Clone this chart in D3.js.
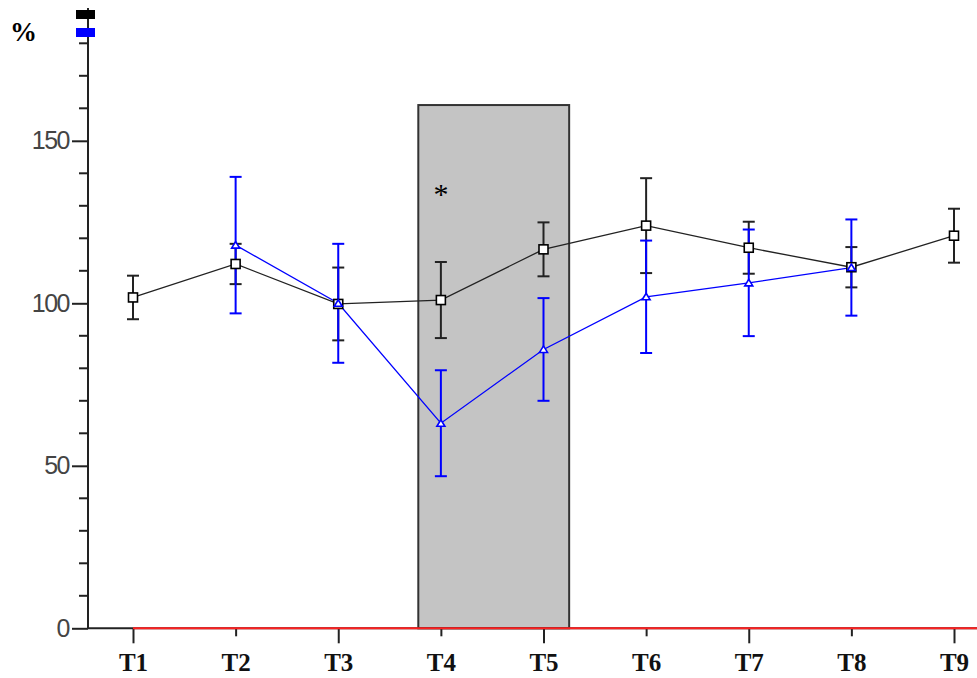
<!DOCTYPE html>
<html>
<head>
<meta charset="utf-8">
<script src="https://cdn.jsdelivr.net/npm/d3@7"></script>
<style>
  body { margin: 0; background: #fff; }
  svg { display: block; }
</style>
</head>
<body>
<div id="chart"></div>
<script>
// data
const categories = ["T1", "T2", "T3", "T4", "T5", "T6", "T7", "T8", "T9"];

const blackMean = [101.8, 112.1, 99.8, 101.0, 116.6, 123.9, 117.1, 111.1, 120.8];
const blackErr  = [6.7, 6.2, 11.2, 11.7, 8.3, 14.6, 8.0, 6.2, 8.3];

const blueMean = [null, 117.9, 100.0, 63.1, 85.8, 102.0, 106.3, 111.0, null];
const blueErr  = [null, 21.0, 18.3, 16.3, 15.8, 17.3, 16.4, 14.8, null];

const yMajorTicks = [0, 50, 100, 150];
const yMinorTicks = [10, 20, 30, 40, 60, 70, 80, 90, 110, 120, 130, 140, 160, 170, 180];

// shaded period, in category units (1 = T1) and value
const shadeFrom = 3.78;
const shadeTo = 5.25;
const shadeTop = 161;

const legendColors = ["#000000", "#0000ff"];

const WIDTH = 977;
const HEIGHT = 678;

const svg = d3.select("#chart").append("svg")
    .attr("width", WIDTH)
    .attr("height", HEIGHT);

const AXIS_X = 88;
const BASE_Y = 628.3;

const y = d3.scaleLinear()
    .domain([0, 190])
    .range([BASE_Y, BASE_Y - 190 * 3.25]);

const x = d3.scalePoint()
    .domain(categories)
    .range([133, 954]);

const xIdx = d3.scaleLinear()
    .domain([1, categories.length])
    .range([133, 954]);

// shaded rectangle
svg.append("rect")
    .attr("x", xIdx(shadeFrom))
    .attr("y", y(shadeTop))
    .attr("width", xIdx(shadeTo) - xIdx(shadeFrom))
    .attr("height", y(0) - y(shadeTop))
    .attr("fill", "#c4c4c4")
    .attr("stroke", "#333")
    .attr("stroke-width", 2);

svg.append("text")
    .text("*")
    .attr("x", x("T4"))
    .attr("y", 204)
    .attr("text-anchor", "middle")
    .attr("font-family", "'Liberation Serif', serif")
    .attr("font-size", 30)
    .attr("fill", "#000");

// y axis
const yAxis = svg.append("g")
    .attr("transform", `translate(${AXIS_X}, 0)`)
    .call(d3.axisLeft(y).tickValues(yMajorTicks).tickSize(16).tickPadding(3).tickSizeOuter(0));
yAxis.select(".domain").attr("d", `M0,${BASE_Y}V8`).attr("stroke", "#222").attr("stroke-width", 2);
yAxis.selectAll("line").attr("stroke", "#222").attr("stroke-width", 2);
yAxis.selectAll("text")
    .attr("font-family", "'Liberation Sans', Arial, sans-serif")
    .attr("font-size", 25)
    .attr("letter-spacing", -1.5)
    .attr("fill", "#444");

svg.append("g")
    .selectAll("line")
    .data(yMinorTicks)
    .join("line")
    .attr("x1", AXIS_X - 9)
    .attr("x2", AXIS_X)
    .attr("y1", d => y(d))
    .attr("y2", d => y(d))
    .attr("stroke", "#222")
    .attr("stroke-width", 2);

svg.append("text")
    .text("%")
    .attr("x", 10)
    .attr("y", 41)
    .attr("font-family", "'Liberation Serif', serif")
    .attr("font-weight", "bold")
    .attr("font-size", 27)
    .attr("fill", "#000");

// legend-like swatches at the axis top
svg.append("g")
    .selectAll("rect")
    .data(legendColors)
    .join("rect")
    .attr("x", 76)
    .attr("y", (d, i) => 10 + i * 18)
    .attr("width", 19)
    .attr("height", 9)
    .attr("fill", d => d);

// x axis
const xAxis = svg.append("g")
    .attr("transform", `translate(0, ${BASE_Y})`)
    .call(d3.axisBottom(x).tickSizeOuter(0));
xAxis.select(".domain").attr("d", `M${AXIS_X},0H${WIDTH}`).attr("stroke", "#222").attr("stroke-width", 2);
xAxis.selectAll(".tick line")
    .attr("y2", (d, i) => i % 2 == 0 ? 15 : 8)
    .attr("stroke", "#222")
    .attr("stroke-width", 2);
xAxis.selectAll("text")
    .attr("y", 43)
    .attr("dy", 0)
    .attr("font-family", "'Liberation Serif', serif")
    .attr("font-weight", "bold")
    .attr("font-size", 25)
    .attr("fill", "#111");

// red zero line
svg.append("line")
    .attr("x1", x("T1"))
    .attr("x2", WIDTH)
    .attr("y1", y(0))
    .attr("y2", y(0))
    .attr("stroke", "#ff2020")
    .attr("stroke-width", 2);

const blackPts = categories.map((c, i) => ({ c: c, v: blackMean[i], e: blackErr[i] }));
const bluePts = categories.map((c, i) => ({ c: c, v: blueMean[i], e: blueErr[i] }))
    .filter(d => d.v != null);

const line = d3.line()
    .x(d => x(d.c))
    .y(d => y(d.v));

let drawErrors = (pts, color) => {
    const g = svg.append("g").attr("stroke", color).attr("stroke-width", 2);
    g.selectAll(".v").data(pts).join("line")
        .attr("x1", d => x(d.c)).attr("x2", d => x(d.c))
        .attr("y1", d => y(d.v + d.e)).attr("y2", d => y(d.v - d.e));
    g.selectAll(".t").data(pts).join("line")
        .attr("x1", d => x(d.c) - 6).attr("x2", d => x(d.c) + 6)
        .attr("y1", d => y(d.v + d.e)).attr("y2", d => y(d.v + d.e));
    g.selectAll(".b").data(pts).join("line")
        .attr("x1", d => x(d.c) - 6).attr("x2", d => x(d.c) + 6)
        .attr("y1", d => y(d.v - d.e)).attr("y2", d => y(d.v - d.e));
};

drawErrors(blackPts, "#222");
drawErrors(bluePts, "#0000ff");

svg.append("path")
    .attr("d", line(blackPts))
    .attr("fill", "none")
    .attr("stroke", "#222")
    .attr("stroke-width", 1.3);

svg.append("path")
    .attr("d", line(bluePts))
    .attr("fill", "none")
    .attr("stroke", "#0000ff")
    .attr("stroke-width", 1.3);

// markers
svg.append("g")
    .selectAll("rect")
    .data(blackPts)
    .join("rect")
    .attr("x", d => x(d.c) - 4.5)
    .attr("y", d => y(d.v) - 4.5)
    .attr("width", 9)
    .attr("height", 9)
    .attr("fill", "#fff")
    .attr("stroke", "#000")
    .attr("stroke-width", 1.6);

svg.append("g")
    .selectAll("path")
    .data(bluePts)
    .join("path")
    .attr("d", d => {
        const cx = x(d.c), cy = y(d.v);
        return `M${cx - 4},${cy + 3}L${cx + 4},${cy + 3}L${cx},${cy - 3.5}Z`;
    })
    .attr("fill", "#fff")
    .attr("stroke", "#0000ff")
    .attr("stroke-width", 1.6);
</script>
</body>
</html>
